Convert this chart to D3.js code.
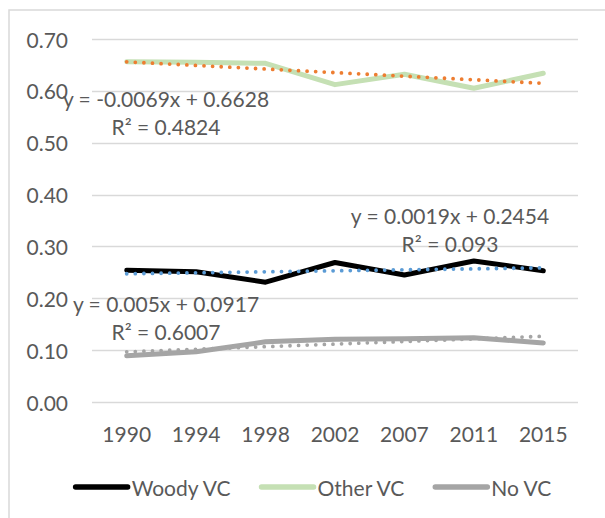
<!DOCTYPE html>
<html>
<head>
<meta charset="utf-8">
<script src="https://cdn.jsdelivr.net/npm/d3@7/dist/d3.min.js"></script>
<style>
  html, body { margin: 0; padding: 0; background: #fff; }
  svg { display: block; }
  text { font-family: Lato, "Noto Sans", sans-serif; fill: #595959; }
</style>
</head>
<body>
<svg id="chart" width="605" height="518"></svg>
<script>
// ---- data ----
const years = ["1990", "1994", "1998", "2002", "2007", "2011", "2015"];
const woodyVC = [0.254, 0.251, 0.231, 0.269, 0.245, 0.272, 0.253];
const otherVC = [0.656, 0.655, 0.653, 0.612, 0.632, 0.605, 0.634];
const noVC    = [0.089, 0.097, 0.116, 0.121, 0.122, 0.124, 0.114];
const seriesNames = ["Woody VC", "Other VC", "No VC"];
const yTicks = [0, 0.1, 0.2, 0.3, 0.4, 0.5, 0.6, 0.7];
// trendline coefficients (as labelled: y = slope*x + intercept, x = 1..7)
const trendSlope = [0.0019, -0.0069, 0.005];
const trendIntercept = [0.2454, 0.6628, 0.0917];
const trendR2 = ["0.093", "0.4824", "0.6007"];
const trendEq = ["y = 0.0019x + 0.2454", "y = -0.0069x + 0.6628", "y = 0.005x + 0.0917"];

// ---- styles ----
const lineColors = ["#000000", "#C5E0B4", "#A5A5A5"];
const trendColors = ["#5B9BD5", "#ED7D31", "#A5A5A5"];
const seriesData = [woodyVC, otherVC, noVC];

const svg = d3.select("#chart");

// frame
svg.append("rect")
  .attr("x", 9).attr("y", 10)
  .attr("width", 700).attr("height", 600)
  .attr("fill", "none").attr("stroke", "#D9D9D9").attr("stroke-width", 1.5);

const x = d3.scaleBand().domain(years).range([92, 578]).padding(0);
const y = d3.scaleLinear().domain([0, 0.7]).range([402, 39]);
const cx = d => x(d) + x.bandwidth() / 2;

// gridlines
svg.append("g").selectAll("line").data(yTicks).join("line")
  .attr("x1", 92).attr("x2", 578)
  .attr("y1", d => Math.round(y(d)) + 0.5).attr("y2", d => Math.round(y(d)) + 0.5)
  .attr("stroke", "#D9D9D9").attr("stroke-width", 1.3);

// y axis labels
svg.append("g").selectAll("text").data(yTicks).join("text")
  .attr("x", 68).attr("y", d => y(d))
  .attr("text-anchor", "end").attr("dominant-baseline", "central")
  .attr("font-size", 21)
  .text(d => d3.format(".2f")(d));

// x axis labels
svg.append("g").selectAll("text").data(years).join("text")
  .attr("x", d => cx(d)).attr("y", 433)
  .attr("text-anchor", "middle").attr("dominant-baseline", "central")
  .attr("font-size", 21)
  .text(d => d);

// series lines
const line = d3.line().x((d, i) => cx(years[i])).y(d => y(d));
seriesData.forEach((s, k) => {
  svg.append("path").datum(s)
    .attr("d", line)
    .attr("fill", "none")
    .attr("stroke", lineColors[k])
    .attr("stroke-width", 5)
    .attr("stroke-linejoin", "round")
    .attr("stroke-linecap", "round");
});

// trendlines
seriesData.forEach((s, k) => {
  const ends = [1, years.length];
  svg.append("line")
    .attr("x1", cx(years[0])).attr("x2", cx(years[years.length - 1]))
    .attr("y1", y(trendSlope[k] * ends[0] + trendIntercept[k]))
    .attr("y2", y(trendSlope[k] * ends[1] + trendIntercept[k]))
    .attr("stroke", trendColors[k])
    .attr("stroke-width", 3.8)
    .attr("stroke-linecap", "round")
    .attr("stroke-dasharray", "0 8.6");
});

// trendline labels
const labelPos = [[450, 215], [166, 98], [166, 303]];
trendEq.forEach((eq, k) => {
  const g = svg.append("g");
  g.append("text")
    .attr("x", labelPos[k][0]).attr("y", labelPos[k][1])
    .attr("text-anchor", "middle").attr("dominant-baseline", "central")
    .attr("font-size", 21).text(eq);
  g.append("text")
    .attr("x", labelPos[k][0]).attr("y", labelPos[k][1] + 28.5)
    .attr("text-anchor", "middle").attr("dominant-baseline", "central")
    .attr("font-size", 21).text("R\u00B2 = " + trendR2[k]);
});

// legend
const legendY = 487;
const legend = svg.append("g");
let lx = 0;
seriesNames.forEach((name, k) => {
  const g = legend.append("g");
  g.append("line")
    .attr("x1", lx + 3).attr("x2", lx + 55)
    .attr("y1", legendY).attr("y2", legendY)
    .attr("stroke", lineColors[k]).attr("stroke-width", 5.5)
    .attr("stroke-linecap", "round");
  const t = g.append("text")
    .attr("x", lx + 59).attr("y", legendY)
    .attr("dominant-baseline", "central")
    .attr("font-size", 21).text(name);
  const w = t.node().getComputedTextLength();
  lx += 59 + w + 28;
});
const totalW = lx - 28;
legend.attr("transform", `translate(${312.5 - totalW / 2 - 0.5},0)`);
</script>
</body>
</html>
